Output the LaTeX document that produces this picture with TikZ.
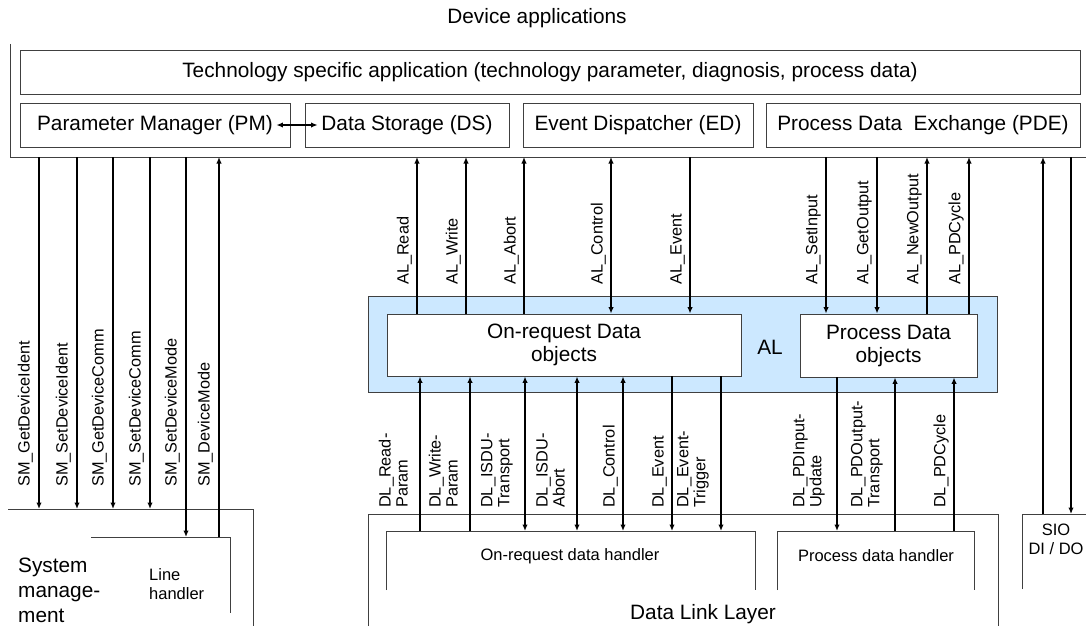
\documentclass[tikz,border=0pt]{standalone}
\usepackage{fontspec}
\setmainfont{Liberation Sans}
\usetikzlibrary{arrows.meta}
\definecolor{alblue}{RGB}{204,232,255}
\definecolor{boxgray}{RGB}{64,64,64}
\begin{document}
\begin{tikzpicture}[x=1pt,y=1pt]
\tikzset{
  box/.style={draw=boxgray,line width=0.9pt,inner sep=0pt},
  frame/.style={draw=boxgray,line width=0.9pt},
  wire/.style={line width=1.5pt},
  big/.style={font=\fontsize{20.8}{23}\selectfont},
  small/.style={font=\fontsize{16.5}{19}\selectfont},
  sig/.style={font=\fontsize{16.3}{17}\selectfont,rotate=90,anchor=south west,inner sep=0pt,align=left},
  >={Latex[length=6.5pt,width=5.5pt]}
}
\useasboundingbox (0,0) rectangle (1086,-626);
% device applications
\node[big] (devtitle) at (537,-18) {Device applications};
\draw[frame] (10,-44) -- (10,-157) -- (1086,-157);
\node[box,big,minimum width=1060pt,minimum height=44pt] (tech) at (550,-72) {Technology specific application (technology parameter, diagnosis, process data)};
\node[box,big,minimum width=270pt,minimum height=44pt] (pm) at (155,-125) {Parameter Manager (PM)};
\node[box,big,minimum width=204pt,minimum height=44pt] (ds) at (407,-125) {Data Storage (DS)};
\node[box,big,minimum width=230pt,minimum height=44pt] (ed) at (638,-125) {Event Dispatcher (ED)};
\node[box,big,minimum width=314pt,minimum height=44pt] (pde) at (923,-125) {Process Data~ Exchange (PDE)};
\draw[wire,<->] ([xshift=-14pt]pm.east) -- ([xshift=13pt]ds.west);
% application layer
\node[box,fill=alblue,minimum width=629pt,minimum height=96pt] (al) at (682.5,-344) {};
\node[box,big,fill=white,align=center,minimum width=354pt,minimum height=62pt] (ord) at (564,-345) {On-request Data\\objects};
\node[box,big,fill=white,align=center,minimum width=177pt,minimum height=63pt] (pdo) at (888.5,-345.5) {Process Data\\objects};
\node[big] (altxt) at (770,-347) {AL};
% system management and line handler
\draw[frame] (8,-509) -- (253,-509) -- (253,-626);
\coordinate (sysm) at (8,-509);
\node[big,align=left,anchor=north west,inner sep=0pt,font=\fontsize{20.8}{25}\selectfont] (smtxt) at (18,-558) {System\\manage-\\ment};
\draw[frame] (91,-537) -- (230,-537) -- (230,-613);
\coordinate (lineh) at (91,-537);
\node[small,align=left,anchor=north west,inner sep=0pt] (lhtxt) at (149,-568) {Line\\handler};
% data link layer
\draw[frame] (368,-626) -- (368,-514) -- (998,-514) -- (998,-626);
\node[big] (dlltxt) at (703,-614) {Data Link Layer};
\draw[frame] (386,-590) -- (386,-531) -- (755,-531) -- (755,-590);
\coordinate (hdl) at (386,-531);
\node[small] (odhtxt) at (570,-556) {On-request data handler};
\draw[frame] (777,-590) -- (777,-531) -- (974,-531) -- (974,-590);
\node[small] (pdhtxt) at (876,-556) {Process data handler};
% SIO
\draw[frame] (1022,-589) -- (1022,-514) -- (1086,-514);
\coordinate (sio) at (1022,-514);
\node[small,align=center,anchor=north,inner sep=0pt] (siotxt) at (1056,-524) {SIO\\DI / DO};
% SM services
\coordinate (sm1) at (39,-157);
\coordinate (sm2) at (77,-157);
\coordinate (sm3) at (113,-157);
\coordinate (sm4) at (150,-157);
\coordinate (sm5) at (186,-157);
\coordinate (sm6) at (219,-157);
\draw[wire,->] (sm1) -- (sm1 |- sysm);
\draw[wire,->] (sm2) -- (sm2 |- sysm);
\draw[wire,->] (sm3) -- (sm3 |- sysm);
\draw[wire,->] (sm4) -- (sm4 |- sysm);
\draw[wire,->] (sm5) -- (sm5 |- lineh);
\draw[wire,->] (sm6 |- lineh) -- (sm6);
\node[sig] (lsm1) at (33,-487) {SM\_GetDeviceIdent};
\node[sig] (lsm2) at (71,-487) {SM\_SetDeviceIdent};
\node[sig] (lsm3) at (107,-487) {SM\_GetDeviceComm};
\node[sig] (lsm4) at (144,-487) {SM\_SetDeviceComm};
\node[sig] (lsm5) at (180,-487) {SM\_SetDeviceMode};
\node[sig] (lsm6) at (213,-487) {SM\_DeviceMode};
% AL services
\coordinate (al1) at (417,-157);
\coordinate (al2) at (466,-157);
\coordinate (al3) at (524,-157);
\coordinate (al4) at (611,-157);
\coordinate (al5) at (690,-157);
\coordinate (al6) at (826,-157);
\coordinate (al7) at (877,-157);
\coordinate (al8) at (927,-157);
\coordinate (al9) at (969,-157);
\draw[wire,->] (al1 |- ord.north) -- (al1);
\draw[wire,->] (al2 |- ord.north) -- (al2);
\draw[wire,->] (al3 |- ord.north) -- (al3);
\draw[wire,<->] (al4 |- ord.north) -- (al4);
\draw[wire,->] (al5) -- (al5 |- ord.north);
\draw[wire,->] (al6) -- (al6 |- pdo.north);
\draw[wire,->] (al7) -- (al7 |- pdo.north);
\draw[wire,->] (al8 |- pdo.north) -- (al8);
\draw[wire,->] (al9 |- pdo.north) -- (al9);
\node[sig] (lal1) at (412,-285) {AL\_Read};
\node[sig] (lal2) at (461,-285) {AL\_Write};
\node[sig] (lal3) at (519,-285) {AL\_Abort};
\node[sig] (lal4) at (606,-285) {AL\_Control};
\node[sig] (lal5) at (685,-285) {AL\_Event};
\node[sig] (lal6) at (821,-285) {AL\_SetInput};
\node[sig] (lal7) at (872,-285) {AL\_GetOutput};
\node[sig] (lal8) at (922,-285) {AL\_NewOutput};
\node[sig] (lal9) at (964,-285) {AL\_PDCycle};
% SIO lines
\coordinate (io1) at (1043,-157);
\coordinate (io2) at (1071,-157);
\draw[wire,->] (io1 |- sio) -- (io1);
\draw[wire,->] (io2) -- (io2 |- sio);
% DL services
\coordinate (dl1) at (420,-531);
\coordinate (dl2) at (470,-531);
\coordinate (dl3) at (525,-531);
\coordinate (dl4) at (577,-531);
\coordinate (dl5) at (623,-531);
\coordinate (dl6) at (672,-531);
\coordinate (dl7) at (721,-531);
\coordinate (dl8) at (837,-531);
\coordinate (dl9) at (895,-531);
\coordinate (dl10) at (954,-531);
\draw[wire,->] (dl1) -- (dl1 |- ord.south);
\draw[wire,->] (dl2) -- (dl2 |- ord.south);
\draw[wire,<->] (dl3) -- (dl3 |- ord.south);
\draw[wire,<->] (dl4) -- (dl4 |- ord.south);
\draw[wire,<->] (dl5) -- (dl5 |- ord.south);
\draw[wire,->] (dl6 |- ord.south) -- (dl6);
\draw[wire,->] (dl7 |- ord.south) -- (dl7);
\draw[wire,->] (dl8 |- pdo.south) -- (dl8);
\draw[wire,->] (dl9) -- (dl9 |- pdo.south);
\draw[wire,->] (dl10) -- (dl10 |- pdo.south);
\node[sig] (ldl1) at (408,-508) {DL\_Read-\\Param};
\node[sig] (ldl2) at (458,-508) {DL\_Write-\\Param};
\node[sig] (ldl3) at (513,-508) {DL\_ISDU-\\Transport};
\node[sig] (ldl4) at (565,-508) {DL\_ISDU-\\Abort};
\node[sig] (ldl5) at (618,-508) {DL\_Control};
\node[sig] (ldl6) at (667,-508) {DL\_Event};
\node[sig] (ldl7) at (709,-508) {DL\_Event-\\Trigger};
\node[sig] (ldl8) at (825,-508) {DL\_PDInput-\\Update};
\node[sig] (ldl9) at (883,-508) {DL\_PDOutput-\\Transport};
\node[sig] (ldl10) at (949,-508) {DL\_PDCycle};
\end{tikzpicture}
\end{document}
